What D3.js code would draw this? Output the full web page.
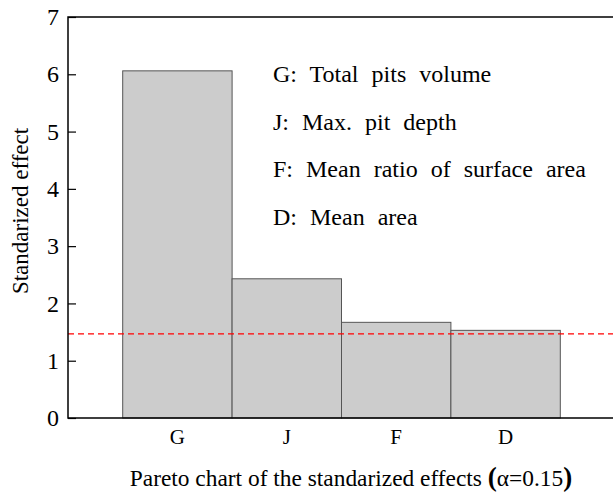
<!DOCTYPE html>
<html>
<head>
<meta charset="utf-8">
<script src="https://cdn.jsdelivr.net/npm/d3@7"></script>
<style>
  body { margin: 0; background: #fff; }
  svg { display: block; }
</style>
</head>
<body>
<div id="chart"></div>
<script>
const categories = ['G', 'J', 'F', 'D'];
const effects = [6.06, 2.43, 1.67, 1.53];
const threshold = 1.47;
const yTicks = [0, 1, 2, 3, 4, 5, 6, 7];
const legendLines = [
  'G: Total pits volume',
  'J: Max. pit depth',
  'F: Mean ratio of surface area',
  'D: Mean area'
];

const serif = '"Liberation Serif", "DejaVu Serif", serif';
const width = 613, height = 496;
const margin = { top: 17, right: -2, bottom: 78, left: 68 };
const plotW = width - margin.left - margin.right;
const plotH = height - margin.top - margin.bottom;

const svg = d3.select('#chart')
  .append('svg')
  .attr('width', width)
  .attr('height', height)
  .style('font-family', serif);

const g = svg.append('g')
  .attr('transform', `translate(${margin.left},${margin.top})`);

const x = d3.scaleBand()
  .domain(categories)
  .range([0, plotW])
  .paddingInner(0)
  .paddingOuter(0.5);

const y = d3.scaleLinear()
  .domain([0, 7])
  .range([plotH, 0]);

// bars
g.selectAll('rect.bar')
  .data(categories.map((c, i) => ({ c, v: effects[i] })))
  .join('rect')
  .attr('class', 'bar')
  .attr('x', d => x(d.c))
  .attr('y', d => y(d.v))
  .attr('width', x.bandwidth())
  .attr('height', d => y(0) - y(d.v))
  .attr('fill', '#cccccc')
  .attr('stroke', '#555')
  .attr('stroke-width', 1);

// significance line
g.append('line')
  .attr('x1', 0)
  .attr('x2', plotW)
  .attr('y1', y(threshold))
  .attr('y2', y(threshold))
  .attr('stroke', '#ff0000')
  .attr('stroke-width', 1.2)
  .attr('stroke-dasharray', '6,4');

// frame: left, top, bottom
g.append('path')
  .attr('d', `M${plotW},0H0V${plotH}H${plotW}`)
  .attr('fill', 'none')
  .attr('stroke', '#000')
  .attr('stroke-width', 1.5);

// y axis, ticks inward
const yAxis = g.append('g')
  .call(d3.axisLeft(y).tickValues(yTicks).tickFormat(d3.format('d')).tickSize(-8).tickPadding(9))
  .attr('font-family', null);
yAxis.select('.domain').remove();
yAxis.selectAll('.tick line').attr('stroke', '#000').attr('stroke-width', 1.2);
yAxis.selectAll('.tick text')
  .style('font-family', serif)
  .style('font-size', '24px')
  .attr('fill', '#000');

// x axis labels
const xAxis = g.append('g')
  .attr('transform', `translate(0,${plotH})`)
  .call(d3.axisBottom(x).tickSize(0).tickPadding(11))
  .attr('font-family', null);
xAxis.select('.domain').remove();
xAxis.selectAll('.tick text')
  .style('font-family', serif)
  .style('font-size', '21px')
  .attr('fill', '#000');

// axis titles
svg.append('text')
  .attr('transform', `translate(28,211) rotate(-90)`)
  .attr('text-anchor', 'middle')
  .style('font-family', serif)
  .style('font-size', '23px')
  .text('Standarized effect');

const xt = svg.append('text')
  .attr('x', 351)
  .attr('y', 486)
  .attr('text-anchor', 'middle')
  .style('font-family', serif)
  .style('font-size', '23.4px');
xt.append('tspan').text('Pareto chart of the standarized effects ');
xt.append('tspan').style('font-size', '27px').attr('font-weight', 'bold').text('(');
xt.append('tspan').text('α=0.15');
xt.append('tspan').style('font-size', '27px').attr('font-weight', 'bold').text(')');

// legend text
svg.append('g')
  .selectAll('text')
  .data(legendLines)
  .join('text')
  .attr('x', 273)
  .attr('y', (d, i) => 82 + i * 47.7)
  .style('font-family', serif)
  .style('font-size', '24px')
  .attr('word-spacing', 7)
  .text(d => d);
</script>
</body>
</html>
